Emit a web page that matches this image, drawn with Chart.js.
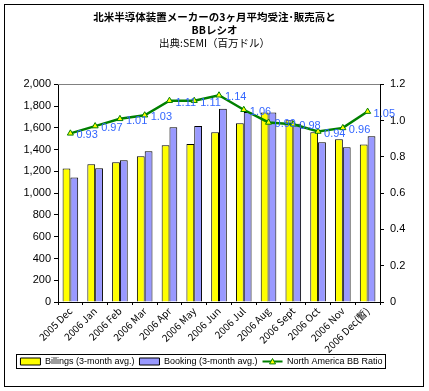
<!DOCTYPE html>
<html>
<head>
<meta charset="utf-8">
<script src="https://cdn.jsdelivr.net/npm/chart.js@4"></script>
<style>
  html, body { margin: 0; padding: 0; background: #fff; }
  #wrap { width: 429px; height: 391px; }
</style>
</head>
<body>
<div id="wrap"><canvas id="c" width="429" height="391"></canvas></div>
<script>
// 月ラベル
const months = ['2005 Dec', '2006 Jan', '2006 Feb', '2006 Mar', '2006 Apr', '2006 May',
  '2006 Jun', '2006 Jul', '2006 Aug', '2006 Sept', '2006 Oct', '2006 Nov', '2006 Dec(暫)'];
// 販売高 (百万ドル)
const billings = [1227, 1265, 1284, 1339, 1440, 1452, 1560, 1642, 1742, 1670, 1560, 1495, 1447];
// 受注高 (百万ドル)
const bookings = [1145, 1229, 1303, 1385, 1606, 1617, 1777, 1746, 1742, 1639, 1468, 1422, 1523];
// BBレシオ
const bbRatio = [0.93, 0.97, 1.01, 1.03, 1.11, 1.11, 1.14, 1.06, 0.99, 0.98, 0.94, 0.96, 1.05];

const baseFont = '"Liberation Sans", Arial, sans-serif';
const jpFont = '"Noto Sans CJK JP", sans-serif';
const legendShift = -13;  // 凡例を少し左へ

// 枠線・上辺・凡例枠・ラベルを描く
const decor = {
  id: 'decor',
  afterUpdate(chart) {
    const lg = chart.legend;
    lg.left += legendShift;
    lg.right += legendShift;
    lg.top -= 2;
    lg.bottom -= 2;
    lg.legendHitBoxes.forEach(b => { b.left += legendShift; b.top -= 2; });
  },
  afterDraw(chart) {
    const ctx = chart.ctx;
    const a = chart.chartArea;
    ctx.save();
    // 外枠
    ctx.strokeStyle = '#000';
    ctx.lineWidth = 1;
    ctx.strokeRect(4.5, 4.5, 419, 382);
    // プロット上辺 (灰色)
    ctx.strokeStyle = '#808080';
    ctx.beginPath();
    ctx.moveTo(a.left, Math.round(a.top) + 0.5);
    ctx.lineTo(a.right, Math.round(a.top) + 0.5);
    ctx.stroke();

    // 凡例の枠
    const boxes = chart.legend.legendHitBoxes;
    if (boxes.length) {
      const l = boxes[0].left - 4;
      const last = boxes[boxes.length - 1];
      const r = last.left + last.width + 3;
      const t = boxes[0].top - 3;
      const h = boxes[0].height + 5;
      ctx.strokeStyle = '#000';
      ctx.strokeRect(Math.round(l) + 0.5, Math.round(t) + 0.5, Math.round(r - l), Math.round(h));
      // 凡例の三角マーカー
      const b = boxes[2];
      drawTri(ctx, b.left + 10, b.top + b.height / 2, 3);
    }

    // BBレシオの値ラベル
    const meta = chart.getDatasetMeta(2);
    ctx.fillStyle = '#3366ff';
    ctx.font = '11px ' + baseFont;
    ctx.textAlign = 'left';
    ctx.textBaseline = 'middle';
    meta.data.forEach((pt, i) => {
      ctx.fillText(bbRatio[i].toFixed(2), pt.x + 6, pt.y + 2);
    });
    ctx.restore();
  }
};

function drawTri(ctx, x, y, r) {
  ctx.save();
  ctx.beginPath();
  ctx.moveTo(x, y - r);
  ctx.lineTo(x + r, y + r * 0.8);
  ctx.lineTo(x - r, y + r * 0.8);
  ctx.closePath();
  ctx.fillStyle = '#ffff00';
  ctx.fill();
  ctx.strokeStyle = '#008000';
  ctx.lineWidth = 1;
  ctx.stroke();
  ctx.restore();
}

new Chart(document.getElementById('c'), {
  data: {
    labels: months,
    datasets: [
      {
        type: 'bar',
        label: 'Billings (3-month avg.)',
        data: billings,
        backgroundColor: '#ffff00',
        borderColor: '#000',
        borderWidth: 1,
        yAxisID: 'y',
        order: 2,
        categoryPercentage: 0.63,
        barPercentage: 1.0
      },
      {
        type: 'bar',
        label: 'Booking (3-month avg.)',
        data: bookings,
        backgroundColor: '#9999ff',
        borderColor: '#000',
        borderWidth: 1,
        yAxisID: 'y',
        order: 2,
        categoryPercentage: 0.63,
        barPercentage: 1.0
      },
      {
        type: 'line',
        label: 'North America BB Ratio',
        data: bbRatio,
        borderColor: '#008000',
        backgroundColor: '#ffff00',
        borderWidth: 2.5,
        pointStyle: 'triangle',
        pointRadius: 3.5,
        pointBorderColor: '#008000',
        pointBorderWidth: 1,
        pointBackgroundColor: '#ffff00',
        yAxisID: 'y2',
        order: 1,
        tension: 0
      }
    ]
  },
  options: {
    responsive: false,
    animation: false,
    events: [],
    layout: { padding: { left: 0, right: 0, top: 6, bottom: 13 } },
    scales: {
      x: {
        grid: { display: true, drawOnChartArea: false, tickLength: 3, color: '#000' },
        border: { display: true, color: '#000' },
        ticks: {
          color: '#000',
          font: { family: jpFont, size: 10 },
          maxRotation: 45,
          minRotation: 45,
          autoSkip: false,
          padding: 0
        },
        afterFit(s) { s.height = 52; }
      },
      y: {
        position: 'left',
        min: 0,
        max: 2000,
        grid: { display: true, drawOnChartArea: false, tickLength: 4, color: '#000' },
        border: { display: true, color: '#000' },
        ticks: {
          stepSize: 200,
          color: '#000',
          font: { family: baseFont, size: 11 },
          padding: 3
        },
        afterFit(s) { s.width = 58; }
      },
      y2: {
        position: 'right',
        min: 0,
        max: 1.2,
        grid: { display: true, drawOnChartArea: false, tickLength: 4, color: '#000' },
        border: { display: true, color: '#000' },
        ticks: {
          stepSize: 0.2,
          color: '#000',
          font: { family: baseFont, size: 11 },
          padding: 6
        },
        afterFit(s) { s.width = 49; }
      }
    },
    plugins: {
      title: {
        display: true,
        text: ['北米半導体装置メーカーの3ヶ月平均受注･販売高と', 'BBレシオ'],
        color: '#000',
        font: { family: jpFont, size: 10.5, weight: 'bold', lineHeight: 1.25 },
        padding: { top: 4, bottom: 0 }
      },
      subtitle: {
        display: true,
        text: '出典:SEMI（百万ドル）',
        color: '#000',
        font: { family: jpFont, size: 10.5, weight: 'normal', lineHeight: 1.25 },
        padding: { top: 0, bottom: 35 }
      },
      legend: {
        position: 'bottom',
        labels: {
          color: '#000',
          font: { family: baseFont, size: 9 },
          boxWidth: 20,
          boxHeight: 7,
          padding: 5,
          usePointStyle: true,
          generateLabels(chart) {
            return chart.data.datasets.map((ds, i) => ({
              text: ds.label,
              fillStyle: ds.type === 'line' ? '#008000' : ds.backgroundColor,
              strokeStyle: ds.type === 'line' ? '#008000' : '#000',
              lineWidth: ds.type === 'line' ? 2 : 1,
              pointStyle: ds.type === 'line' ? 'line' : 'rect',
              fontColor: '#000',
              datasetIndex: i
            }));
          },
          pointStyleWidth: 20
        }
      },
      tooltip: { enabled: false }
    }
  },
  plugins: [decor]
});
</script>
</body>
</html>
